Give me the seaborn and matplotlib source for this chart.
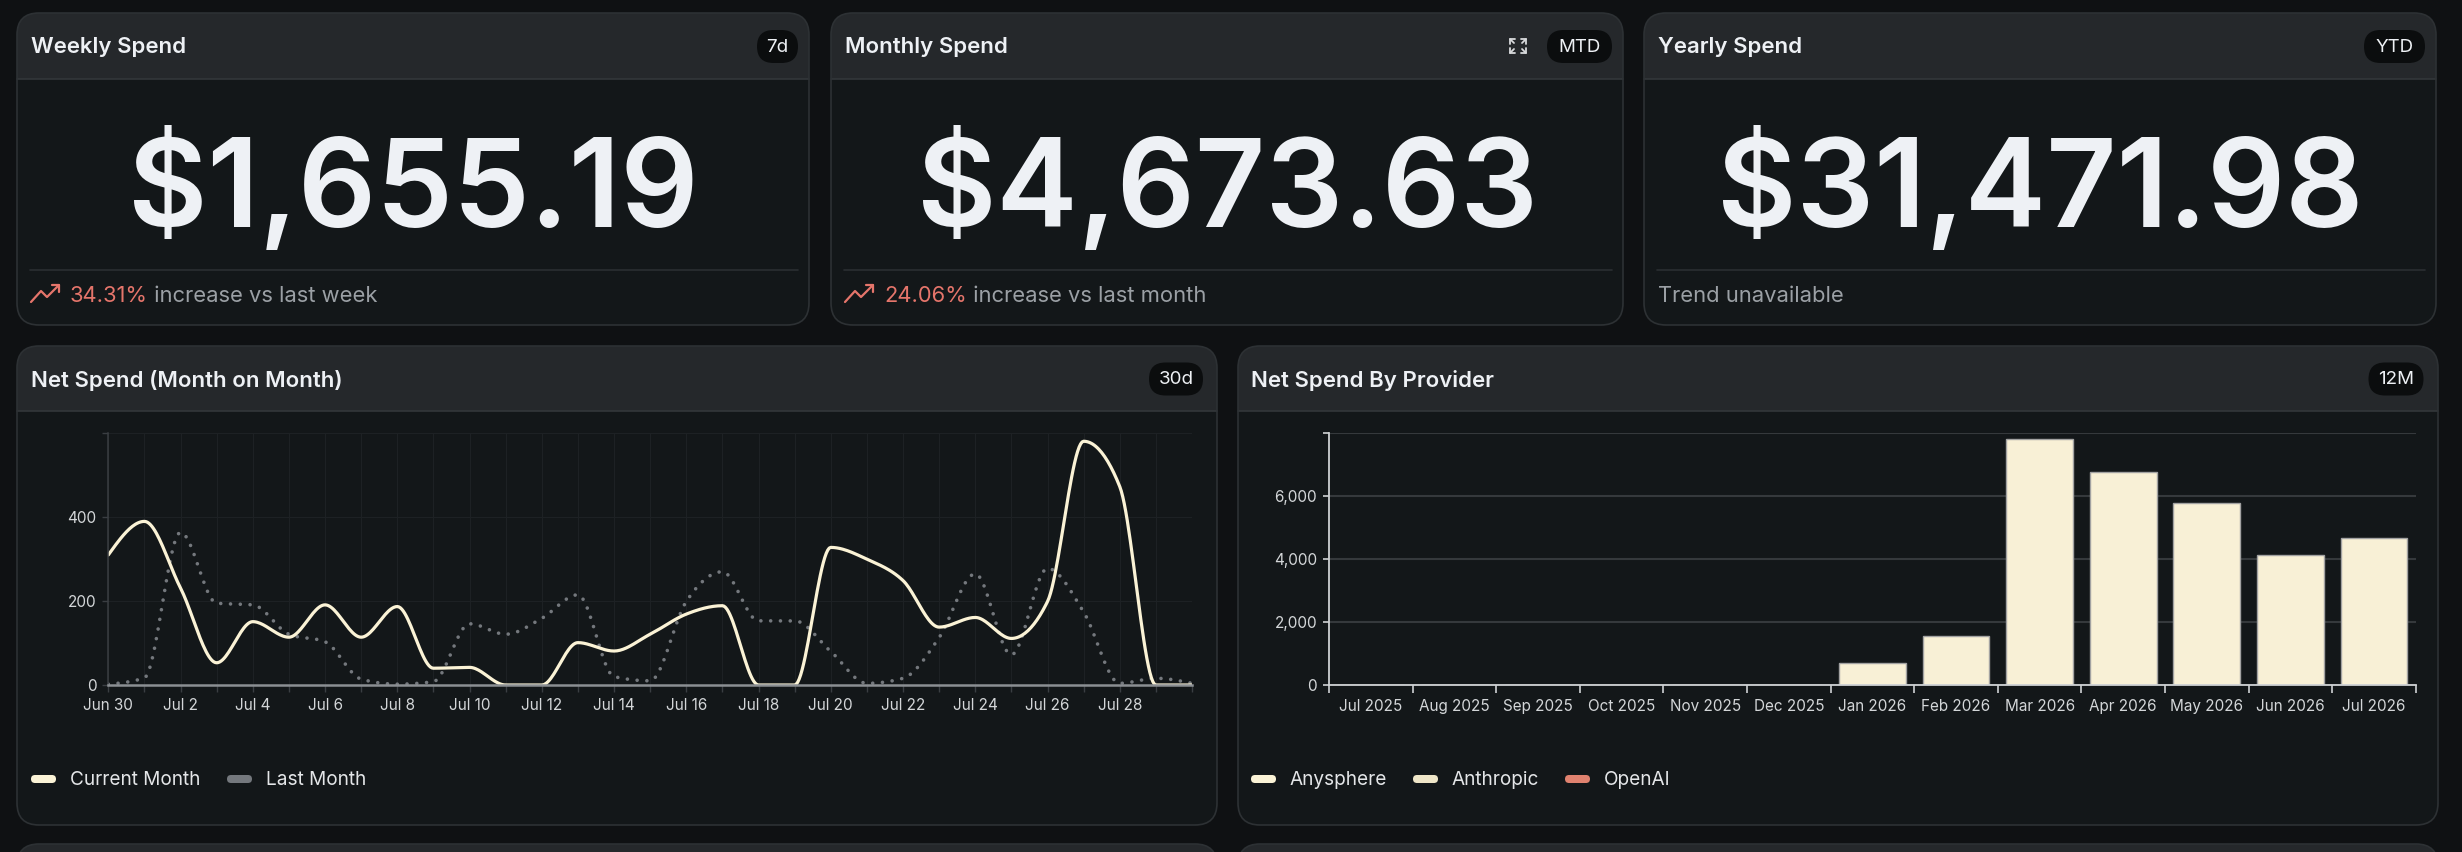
import numpy as np
import pandas as pd
import matplotlib
matplotlib.use("Agg")
import matplotlib.pyplot as plt
from matplotlib.patches import FancyBboxPatch, Rectangle
import seaborn as sns


# ── Data ──────────────────────────────────────────────────────────────────────
kpi_titles  = ["Weekly Spend", "Monthly Spend", "Yearly Spend"]
kpi_values  = [1655.19, 4673.63, 31471.98]
kpi_badges  = ["7d", "MTD", "YTD"]
kpi_changes = [34.31, 24.06, None]
kpi_periods = ["week", "month", None]

days = pd.date_range("2026-06-30", "2026-07-30", freq="D")
current_month = [310, 390, 231, 53, 151, 114, 191, 114, 187, 40, 42, 0, 0, 101, 81,
                 121, 169, 189, 0, 0, 328, 300, 249, 138, 161, 111, 199, 581, 473, 0, 0]
last_month = [2, 17, 364, 195, 191, 121, 103, 14, 2, 8, 146, 121, 159, 215, 20,
              10, 199, 270, 153, 153, 80, 4, 16, 113, 265, 72, 278, 174, 4, 16, 4]

months = ["Jul 2025", "Aug 2025", "Sep 2025", "Oct 2025", "Nov 2025", "Dec 2025",
          "Jan 2026", "Feb 2026", "Mar 2026", "Apr 2026", "May 2026", "Jun 2026", "Jul 2026"]
monthly_spend = [0, 0, 0, 0, 0, 0, 715, 1545, 7830, 6770, 5800, 4135, 4674]
providers = ["Anysphere", "Anthropic", "OpenAI"]


# ── Style ─────────────────────────────────────────────────────────────────────
W, H = 2462, 852
PAGE   = "#0f1113"
BODY   = "#131719"
HEADER = "#25282b"
BORDER = "#2d3134"
BADGE  = "#0b0d0e"
CREAM  = "#fbf3d6"
BAR    = "#f8f0d6"
GREY   = "#74787d"
SALMON = "#e5756b"
MUTED  = "#9ba0a5"
WHITE  = "#eef1f5"
TICK   = "#d3d6d8"

sns.set_theme(style="dark", rc={"axes.facecolor": "none", "figure.facecolor": PAGE})
plt.rcParams["font.family"] = ["Inter", "DejaVu Sans"]


def monotone_curve(values, n=24):
    # d3 curveMonotoneX on unit-spaced points
    y = np.asarray(values, float)
    s = np.diff(y)
    t = np.zeros_like(y)
    for i in range(1, len(y) - 1):
        s0, s1 = s[i - 1], s[i]
        p = (s0 + s1) / 2
        t[i] = (np.sign(s0) + np.sign(s1)) * min(abs(s0), abs(s1), 0.5 * abs(p))
    t[0] = (3 * s[0] - t[1]) / 2
    t[-1] = (3 * s[-1] - t[-2]) / 2
    xs, ys = [], []
    u = np.linspace(0, 1, n, endpoint=False)
    for i in range(len(y) - 1):
        h00 = 2 * u**3 - 3 * u**2 + 1
        h10 = u**3 - 2 * u**2 + u
        h01 = -2 * u**3 + 3 * u**2
        h11 = u**3 - u**2
        xs.append(i + u)
        ys.append(h00 * y[i] + h10 * t[i] + h01 * y[i + 1] + h11 * t[i + 1])
    xs.append([len(y) - 1])
    ys.append([y[-1]])
    return np.concatenate(xs), np.concatenate(ys)


fig = plt.figure(figsize=(W / 100, H / 100), dpi=100)
bg = fig.add_axes([0, 0, 1, 1])
bg.set_xlim(0, W)
bg.set_ylim(H, 0)
bg.axis("off")


def card(x0, x1, y0, y1, yh):
    bg.add_patch(FancyBboxPatch((x0, y0), x1 - x0, y1 - y0,
                                boxstyle="round,pad=0,rounding_size=22", fc=HEADER, ec="none"))
    bg.add_patch(FancyBboxPatch((x0, yh), x1 - x0, y1 - yh,
                                boxstyle="round,pad=0,rounding_size=22", fc=BODY, ec="none"))
    bg.add_patch(Rectangle((x0, yh), x1 - x0, 30, fc=BODY, ec="none"))
    bg.plot([x0, x1], [yh, yh], color="#33373a", lw=1.2)
    bg.add_patch(FancyBboxPatch((x0, y0), x1 - x0, y1 - y0, boxstyle="round,pad=0,rounding_size=22",
                                fc="none", ec=BORDER, lw=1.2, zorder=3))


def badge(cx, cy, w, text):
    bg.add_patch(FancyBboxPatch((cx - w / 2, cy - 16.5), w, 33,
                                boxstyle="round,pad=0,rounding_size=16.5", fc=BADGE, ec="none", zorder=4))
    bg.text(cx, cy + 1, text, ha="center", va="center", fontsize=13.5, color=WHITE, zorder=5)


def trend_icon(x, y):
    bg.plot([x, x + 10, x + 16, x + 28], [y + 8, y - 3, y + 3, y - 9],
            color=SALMON, lw=1.6, solid_joinstyle="round", solid_capstyle="round")
    bg.plot([x + 21, x + 28, x + 28], [y - 9, y - 9, y - 2],
            color=SALMON, lw=1.6, solid_joinstyle="round", solid_capstyle="round")


# ── KPI cards ─────────────────────────────────────────────────────────────────
kpi_x = [(17, 809), (831, 1623), (1644, 2436)]
badge_w = [41, 65, 61]
for i, (x0, x1) in enumerate(kpi_x):
    card(x0, x1, 13, 325, 79)
    bg.text(x0 + 14, 53, kpi_titles[i], fontsize=16, fontweight="semibold", color=WHITE, va="baseline")
    badge(x1 - 11 - badge_w[i] / 2, 46.5, badge_w[i], kpi_badges[i])
    bg.text((x0 + x1) / 2, 227, f"${kpi_values[i]:,.2f}", ha="center", va="baseline",
            fontsize=88, fontweight="semibold", color=WHITE)
    bg.plot([x0 + 13, x1 - 11], [270, 270], color="#2b2f32", lw=1.2)
    if kpi_changes[i] is None:
        bg.text(x0 + 14, 302, "Trend unavailable", fontsize=15.8, color=MUTED, va="baseline")
    else:
        trend_icon(x0 + 14, 294)
        t1 = bg.text(x0 + 53, 302, f"{kpi_changes[i]:.2f}%", fontsize=15.8, color=SALMON, va="baseline")
        bg.annotate(f" increase vs last {kpi_periods[i]}", xy=(1, 0), xycoords=t1,
                    fontsize=15.8, color=MUTED, ha="left", va="bottom")

# expand icon on the monthly card
for cx, cy, dx, dy in [(1510, 39, 1, 1), (1526, 39, -1, 1), (1510, 53, 1, -1), (1526, 53, -1, -1)]:
    bg.plot([cx + 5 * dx, cx, cx], [cy, cy, cy + 5 * dy], color="#d8dadc", lw=1.3)
    bg.plot([cx, cx + 4 * dx], [cy, cy + 4 * dy], color="#d8dadc", lw=1.3)

# ── Chart cards ───────────────────────────────────────────────────────────────
card(17, 1217, 346, 825, 411)
card(1238, 2438, 346, 825, 411)
bg.text(31, 387, "Net Spend (Month on Month)", fontsize=16, fontweight="semibold", color=WHITE, va="baseline")
bg.text(1251, 387, "Net Spend By Provider", fontsize=16, fontweight="semibold", color=WHITE, va="baseline")
badge(1176, 379, 54, "30d")
badge(2396, 379, 55, "12M")

# next row (cut off)
for x0, x1 in [(17, 1217), (1238, 2438)]:
    bg.add_patch(FancyBboxPatch((x0, 844), x1 - x0, 200, boxstyle="round,pad=0,rounding_size=22",
                                fc=HEADER, ec=BORDER, lw=1.2))


def legend_item(x, label, color, hatch=None):
    bg.add_patch(FancyBboxPatch((x, 775), 25, 8, boxstyle="round,pad=0,rounding_size=4",
                                fc=color, ec="none", hatch=hatch))
    bg.text(x + 39, 785, label, fontsize=13.7, color="#e4e6e8", va="baseline")


legend_item(31, "Current Month", CREAM)
legend_item(227, "Last Month", GREY)
legend_item(1251, providers[0], CREAM)
legend_item(1413, providers[1], "#efe6c8")
legend_item(1565, providers[2], "#e0826f")


def px_axes(x0, x1, ytop, ybot):
    return fig.add_axes([x0 / W, (H - ybot) / H, (x1 - x0) / W, (ybot - ytop) / H])


# ── Line chart ────────────────────────────────────────────────────────────────
ax1 = px_axes(108.3, 1192, 433.3, 685)
lx, ly = monotone_curve(last_month)
sns.lineplot(x=lx, y=ly, ax=ax1, color=GREY, lw=2.6, sort=False, estimator=None,
             linestyle=(0, (0.01, 2.7)), dash_capstyle="round")
cx, cy = monotone_curve(current_month)
sns.lineplot(x=cx, y=cy, ax=ax1, color=CREAM, lw=2.3, sort=False, estimator=None,
             solid_capstyle="round")
ax1.set_xlim(0, 30)
ax1.set_ylim(0, 600)
ax1.set_xticks(range(len(days)))
ax1.set_xticklabels([f"{d:%b} {d.day}" if i % 2 == 0 and i < 30 else "" for i, d in enumerate(days)])
ax1.set_yticks([0, 200, 400, 600])
ax1.set_yticklabels(["0", "200", "400", ""])
ax1.grid(True, color="#1d2124", lw=0.8)
for side in ["top", "right"]:
    ax1.spines[side].set_visible(False)
ax1.spines["left"].set_color("#3a3e42")
ax1.spines["left"].set_linewidth(1.1)
ax1.spines["bottom"].set_color("#8b8f93")
ax1.spines["bottom"].set_linewidth(1.8)
ax1.tick_params(axis="both", colors="#3a3e42", labelcolor=TICK, labelsize=11, width=1,
                bottom=True, left=True)
ax1.tick_params(axis="x", length=5, pad=4)
ax1.tick_params(axis="y", length=4.5, pad=4)
ax1.set_xlabel("")
ax1.set_ylabel("")

# ── Bar chart ─────────────────────────────────────────────────────────────────
ax2 = px_axes(1329, 2415.8, 433.3, 685)
sns.barplot(x=months, y=monthly_spend, order=months, ax=ax2, color=BAR, saturation=1,
            edgecolor="#a2a2a2", linewidth=1, width=0.8)
ax2.set_xlim(-0.5, 12.5)
ax2.set_ylim(0, 8000)
ax2.set_yticks([0, 2000, 4000, 6000, 8000])
ax2.set_yticklabels(["0", "2,000", "4,000", "6,000", ""])
ax2.set_xticks(np.arange(-0.5, 13, 1), minor=True)
ax2.yaxis.grid(True, color="#35393c", lw=1.5)
ax2.xaxis.grid(False)
for side in ["top", "right"]:
    ax2.spines[side].set_visible(False)
for side in ["left", "bottom"]:
    ax2.spines[side].set_color("#cfd2d4")
    ax2.spines[side].set_linewidth(1.3)
ax2.tick_params(axis="x", which="major", length=0, pad=10, labelcolor=TICK, labelsize=11, bottom=True)
ax2.tick_params(axis="x", which="minor", length=6, width=1.2, color="#cfd2d4", bottom=True)
ax2.tick_params(axis="y", length=4.5, width=1.2, color="#cfd2d4", labelcolor=TICK, labelsize=11,
                pad=4, left=True)
ax2.set_xlabel("")
ax2.set_ylabel("")

fig.savefig("out.png", dpi=100, facecolor=PAGE)
